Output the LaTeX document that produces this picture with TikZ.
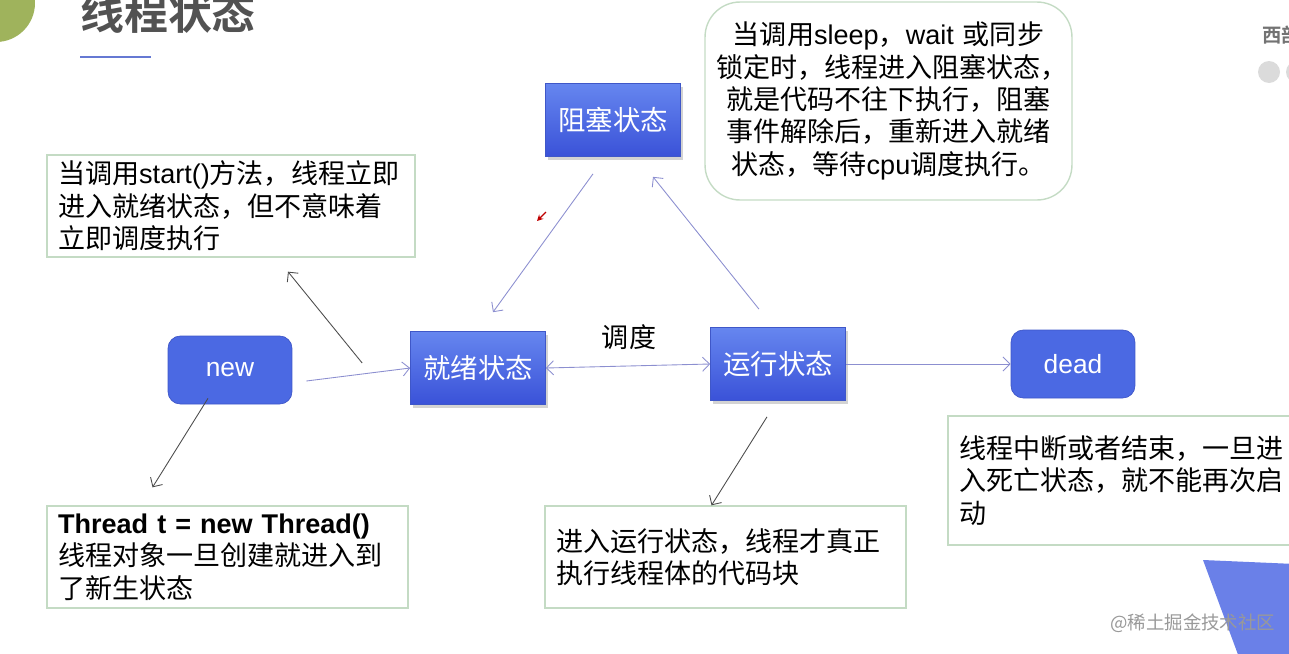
\documentclass[tikz,border=0pt]{standalone}
\usepackage{fontspec}
\setmainfont{Noto Sans CJK SC}[BoldFont={Noto Sans CJK SC Bold}]
\newfontfamily\latfont{Liberation Sans}
\newcommand{\lat}[1]{{\latfont #1}}
\usepackage{tikz}
\usetikzlibrary{positioning,calc,arrows.meta,shadows}
\definecolor{sttop}{HTML}{6686EF}
\definecolor{stbot}{HTML}{3A52D8}
\definecolor{stfill}{HTML}{4B69E3}
\definecolor{stedge}{HTML}{3F57C8}
\definecolor{notegreen}{HTML}{C4DBC4}
\definecolor{flowlav}{HTML}{8C8FD0}
\definecolor{badge}{HTML}{9FB35C}
\definecolor{cornerblue}{HTML}{6A80E8}

\begin{document}
\begin{tikzpicture}[
  x=0.02cm, y=-0.02cm,
  font=\fontsize{15.4}{18.4}\selectfont,
  >={Straight Barb[length=4pt,width=8pt]},
  state/.style={draw=stedge, top color=sttop, bottom color=stbot, text=white,
                minimum width=2.7cm, minimum height=1.46cm, inner sep=0pt,
                font=\fontsize{15.6}{18}\selectfont,
                drop shadow={shadow xshift=1.2pt, shadow yshift=-1.8pt, opacity=0.35}},
  term/.style={draw=stedge, fill=stfill, rounded corners=7pt, text=white,
               minimum width=2.48cm, minimum height=1.36cm, inner sep=0pt,
               font=\fontsize{15}{18}\selectfont\latfont},
  note/.style={draw=notegreen, line width=0.8pt, align=left, inner xsep=0.22cm, inner ysep=0pt},
  lbl/.style={font=\fontsize{15.4}{18}\selectfont},
  fl/.style={->, draw=flowlav, line width=0.5pt},
  pl/.style={->, draw=black!70, line width=0.5pt},
]
  \useasboundingbox (0,0) rectangle (1289,653);

  %=================== header ===================
  \fill[badge] (-4,3) circle (0.78cm);
  \node[anchor=west, text=black!68, font=\fontsize{25}{28}\selectfont\bfseries] (title) at (74,13) {线程状态};
  \draw[stedge!80, line width=1.7pt] (80,57) -- (151,57);
  \node[anchor=west, text=black!55, font=\fontsize{11}{13}\selectfont\bfseries] (brand) at (1256,35) {西部};
  \fill[black!14] (1269,72) circle (0.22cm);
  \fill[black!14] (1297,72) circle (0.22cm);

  %=================== states ===================
  \node[state] (block) at (613,120) {阻塞状态};
  \node[state] (ready) at (478,368) {就绪状态};
  \node[state] (run)   at (778,364) {运行状态};
  \node[term]  (new)   at (230,370) {new};
  \node[term]  (dead)  at (1073,364) {dead};
  \node[lbl]   (sched) at (629,337) {调度};

  %=================== notes ===================
  \node[note, text width=6.92cm, minimum height=2.04cm] (startnote) at (231,206)
       {当调用\lat{start()}方法，线程立即\\进入就绪状态，但不意味着\\立即调度执行};
  \node[note, rounded corners=0.7cm, align=center, text width=6.9cm, minimum height=3.96cm] (sleepnote) at (888.5,101)
       {当调用\lat{sleep}，\lat{wait} 或同步\\锁定时，线程进入阻塞状态，\\就是代码不往下执行，阻塞\\事件解除后，重新进入就绪\\状态，等待\lat{cpu}调度执行。};
  \node[note, text width=6.78cm, minimum height=2.04cm] (newnote) at (227.5,557)
       {\textbf{\lat{Thread t = new Thread()}}\\线程对象一旦创建就进入到\\了新生状态};
  \node[note, text width=6.78cm, minimum height=2.04cm] (runnote) at (725.5,557)
       {进入运行状态，线程才真正\\执行线程体的代码块};
  \node[note, text width=6.6cm, minimum height=2.58cm] (deadnote) at (1124,480.5)
       {线程中断或者结束，一旦进\\入死亡状态，就不能再次启\\动};

  %=================== transitions ===================
  \draw[fl] ($(new.east)+(14,11)$) -- (ready.west);
  \draw[fl, <->] (ready.east) -- (run.west);
  \draw[fl] (run.east) -- (dead.west);
  \draw[fl] ($(block.south)+(-20,17)$) -- ($(ready.north)+(15,-19)$);
  \draw[fl] ($(run.north)+(-19,-18)$) -- ($(block.south)+(40,20)$);

  % pointers to the notes
  \draw[pl] ($(ready.west)+(-48,-5)$) -- ($(startnote.south)+(57,14)$);
  \draw[pl] ($(new.south)+(-22,-6)$) -- ($(newnote.north)+(-75,-18)$);
  \draw[pl] ($(run.south)+(-11,16)$) -- ($(runnote.north)+(-14,0)$);
  \draw[red!75!black, line width=0.7pt, -{Stealth[length=3.5pt,width=3.5pt]}] (546,212) -- (537,221);

  %=================== corner ===================
  \fill[cornerblue] (1203,560) -- (1295,564) -- (1295,660) -- (1240,660) -- cycle;
  \node[anchor=west, text=black!40, font=\fontsize{10.5}{12}\selectfont] (mark) at (1104,623) {@稀土掘金技术社区};
\end{tikzpicture}
\end{document}
